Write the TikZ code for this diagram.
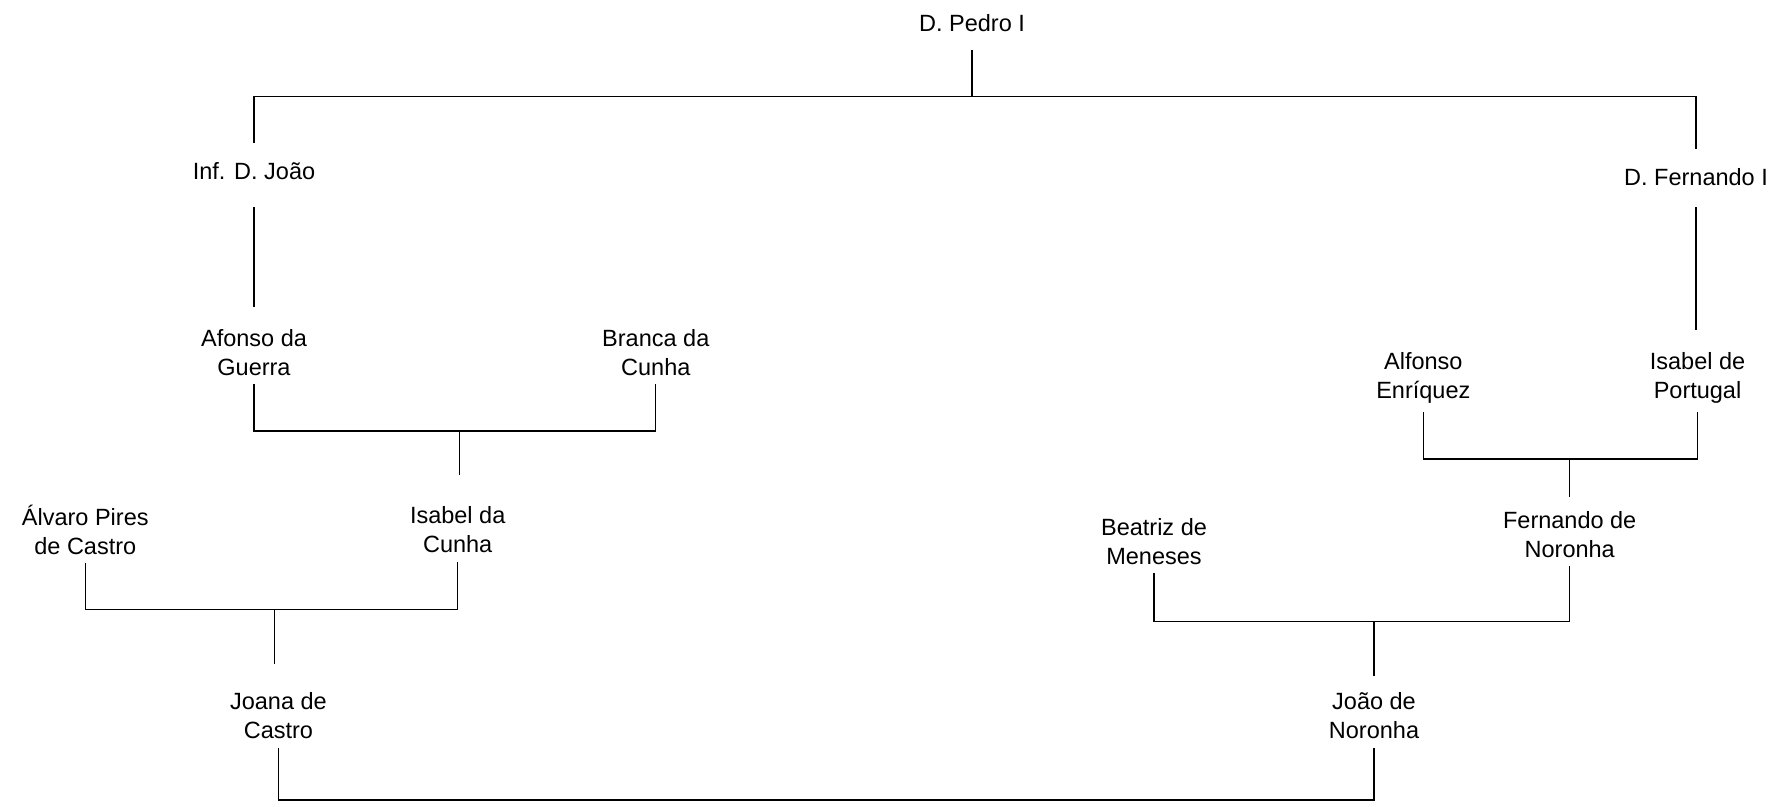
\documentclass[tikz,border=0pt]{standalone}
\usepackage{fontspec}
\setmainfont{Liberation Sans}
\usepackage{tikz}

\begin{document}
\begin{tikzpicture}[x=0.5pt, y=-0.5pt, line width=0.6pt,
    person/.style={align=center, inner xsep=2pt, inner ysep=4pt, minimum height=27pt,
        font=\fontsize{11.75}{14.5}\selectfont},
    drop/.style={shorten >=#1}, drop/.default=7pt]
\useasboundingbox (0,0) rectangle (1781,807);
\node[person] (pedro) at (972,22.7) {D. Pedro I};
\node[person] (infjoao) at (254,170.7) {Inf. D. João};
\node[person] (fernando) at (1696,176.7) {D. Fernando I};
\node[person] (afonso) at (254,352.5) {Afonso da\\Guerra};
\node[person] (branca) at (655.8,352.5) {Branca da\\Cunha};
\node[person] (alfonso) at (1423.3,378.3) {Alfonso\\Enríquez};
\node[person] (isabelp) at (1697.5,378.3) {Isabel de\\Portugal};
\node[person] (alvaro) at (85.3,530) {Álvaro Pires\\de Castro};
\node[person] (isabelc) at (457.7,530) {Isabel da\\Cunha};
\node[person] (beatriz) at (1154,541.5) {Beatriz de\\Meneses};
\node[person] (fernandon) at (1569.7,534.5) {Fernando de\\Noronha};
\node[person] (joana) at (278.4,716) {Joana de\\Castro};
\node[person] (joaon) at (1374,716) {João de\\Noronha};
\coordinate (kids) at (972,96.7);
\coordinate (wed1) at (459.8,431);
\coordinate (wed2) at (274.4,609.7);
\coordinate (wed3) at (1569.7,459);
\coordinate (wed4) at (1374,621.7);
\coordinate (wed5) at (826,800);
\draw (pedro) -- (kids);
\draw (infjoao.north) |- (kids) -| (fernando.north);
\draw[drop, shorten <=4.5pt] (infjoao.south) -- (afonso.north);
\draw[drop, shorten <=1.5pt] (fernando.south) -- (fernando.south |- isabelp.north);
\draw (afonso.south) |- (wed1) -| (branca.south);
\draw[drop=11.5pt] (wed1) -- (wed1 |- isabelc.north);
\draw (alvaro.south) |- (wed2) -| (isabelc.south);
\draw[drop=10pt] (wed2) -- (wed2 |- joana.north);
\draw (alfonso.south) |- (wed3) -| (isabelp.south);
\draw[drop=3pt] (wed3) -- (fernandon.north);
\draw (beatriz.south) |- (wed4) -| (fernandon.south);
\draw[drop=4pt] (wed4) -- (joaon.north);
\draw (joana.south) |- (wed5) -| (joaon.south);
\end{tikzpicture}
\end{document}
